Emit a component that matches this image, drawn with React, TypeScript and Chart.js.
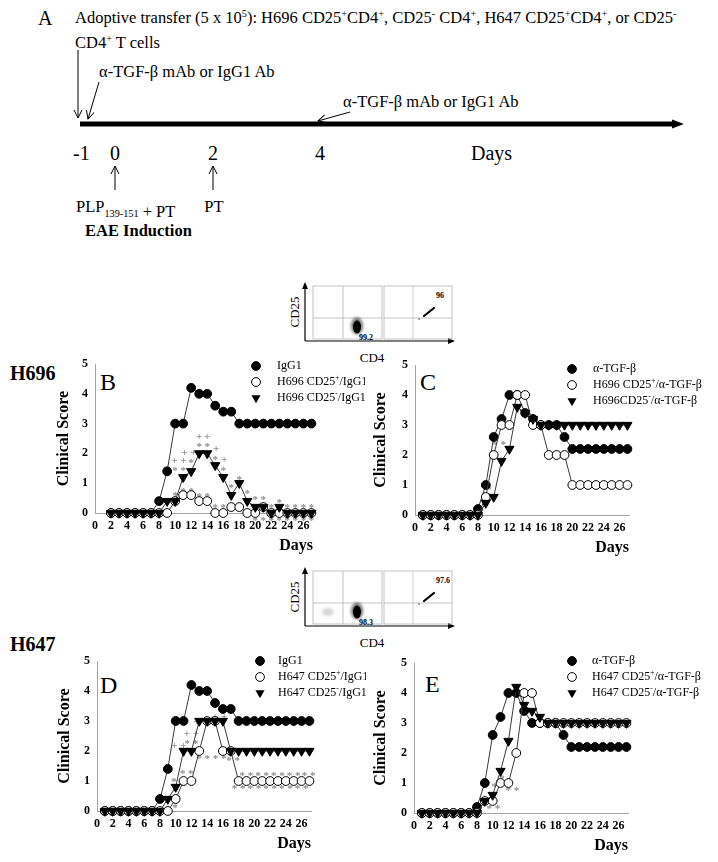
import React, { useEffect, useRef } from 'react';
import { Chart, registerables } from 'chart.js';

Chart.register(...registerables);

const SERIF = "'Liberation Serif', 'Times New Roman', Times, serif";
Chart.defaults.font.family = SERIF;
Chart.defaults.color = '#000';

// ---------- data ----------
const dayTicks = [0, 2, 4, 6, 8, 10, 12, 14, 16, 18, 20, 22, 24, 26];
const scoreTicks = [0, 1, 2, 3, 4, 5];

const daysB = [2, 3, 4, 5, 6, 7, 8, 9, 10, 11, 12, 13, 14, 15, 16, 17, 18, 19, 20, 21, 22, 23, 24, 25, 26, 27];
const daysAll = [1, 2, 3, 4, 5, 6, 7, 8, 9, 10, 11, 12, 13, 14, 15, 16, 17, 18, 19, 20, 21, 22, 23, 24, 25, 26, 27];

// Panel B (H696, IgG1 treated)
const bIgG1 = [0, 0, 0, 0, 0, 0, 0.4, 1.4, 3, 3, 4.2, 4, 4, 3.6, 3.4, 3.4, 3, 3, 3, 3, 3, 3, 3, 3, 3, 3];
const bCD25pos = [0, 0, 0, 0, 0, 0, 0, 0, 0.4, 0.6, 0.6, 0.4, 0.4, 0, 0, 0.2, 0.2, 0, 0, 0.2, 0, 0, 0, 0, 0, 0];
const bCD25neg = [0, 0, 0, 0, 0, 0, 0, 0.4, 0.4, 1.2, 1.4, 2, 2, 1.6, 1.2, 0.6, 1.0, 0.4, 0.2, 0.2, 0, 0.2, 0, 0, 0, 0];

// Panel C (H696, anti-TGF-beta treated)
const cAnti = [0, 0, 0, 0, 0, 0, 0, 0.2, 1.0, 2.6, 3.2, 4.0, 4.0, 3.4, 3.2, 3.0, 3.0, 3.0, 2.6, 2.2, 2.2, 2.2, 2.2, 2.2, 2.2, 2.2, 2.2];
const cCD25pos = [0, 0, 0, 0, 0, 0, 0, 0, 0.6, 2.0, 3.0, 3.0, 4.0, 4.0, 3.0, 3.0, 2.0, 2.0, 2.0, 1, 1, 1, 1, 1, 1, 1, 1];
const cCD25neg = [0, 0, 0, 0, 0, 0, 0, 0, 0.4, 0.6, 1.8, 2.2, 3.6, 3.4, 3.2, 3, 3, 3, 3, 3, 3, 3, 3, 3, 3, 3, 3];

// Panel D (H647, IgG1 treated)
const dIgG1 = [0, 0, 0, 0, 0, 0, 0, 0.4, 1.4, 3, 3, 4.2, 4, 4, 3.6, 3.4, 3.4, 3, 3, 3, 3, 3, 3, 3, 3, 3, 3];
const dCD25pos = [0, 0, 0, 0, 0, 0, 0, 0, 0, 0.4, 1, 1, 2, 3, 3, 2, 2, 1, 1, 1, 1, 1, 1, 1, 1, 1, 1];
const dCD25neg = [0, 0, 0, 0, 0, 0, 0, 0, 0.4, 0.8, 2, 2, 3, 3, 3, 3, 2, 2, 2, 2, 2, 2, 2, 2, 2, 2, 2];

// Panel E (H647, anti-TGF-beta treated)
const eAnti = [0, 0, 0, 0, 0, 0, 0, 0.2, 1.0, 2.6, 3.2, 4.0, 4.0, 3.4, 3.0, 3.0, 3.0, 3.0, 2.6, 2.2, 2.2, 2.2, 2.2, 2.2, 2.2, 2.2, 2.2];
const eCD25pos = [0, 0, 0, 0, 0, 0, 0, 0, 0.4, 0.4, 1.0, 1.0, 2.0, 4.0, 4.0, 3.0, 3, 3, 3, 3, 3, 3, 3, 3, 3, 3, 3];
const eCD25neg = [0, 0, 0, 0, 0, 0, 0, 0, 0.4, 0.6, 1.4, 2.4, 4.2, 3.6, 3.4, 3.2, 3, 3, 3, 3, 3, 3, 3, 3, 3, 3, 3];

// significance marks: [day, score, text]
type Mark = [number, number, string];
const bMarks: Mark[] = [
  [10.5, 1.75, '++'], [10.5, 1.48, '**'], [11.7, 2.0, '++'], [12, 1.75, '*'],
  [13, 2.55, '+'], [14, 2.55, '+'], [13, 2.3, '*'], [14, 2.3, '*'],
  [15.1, 2.13, '+'], [15, 1.87, '*'], [16.1, 1.77, '+'], [16, 1.5, '*'],
  [17, 0.92, '*'], [18, 1.2, '*'], [19, 0.73, '*'], [20, 0.5, '*'], [21, 0.5, '*'], [23, 0.42, '*'],
  [10, 0.65, '*'], [11, 0.8, '*'], [12, 0.8, '*'], [13, 0.6, '*'], [14, 0.6, '*'],
  [15, 0.25, '*'], [16, 0.25, '*'], [22, 0.25, '*'], [24, 0.25, '*'], [25, 0.25, '*'], [26, 0.25, '*'], [27, 0.25, '*'],
  [20, -0.2, '*'], [21, -0.2, '*'], [22, -0.2, '*'], [23, -0.2, '*'], [24, -0.2, '*'], [25, -0.2, '*'], [26, -0.2, '*'], [27, -0.2, '*'],
];
const cMarks: Mark[] = [[10.7, 2.4, '**'], [9.4, 0.9, '*']];
const dMarks: Mark[] = [
  [10.4, 2.17, '++'], [12, 2.55, '++'], [12, 2.3, '**'], [13.2, 2.97, '++'], [13.5, 1.8, '**'],
  [15.6, 3.13, '++'], [15.6, 1.8, '**'], [17.3, 1.74, '**'],
  [10.9, 1.3, '*'], [11.9, 1.3, '*'], [9.8, 1.04, '*'], [9.9, 0.17, '*'],
  [19, 1.25, '**'], [21, 1.25, '**'], [23, 1.25, '**'], [25, 1.25, '**'], [26.9, 1.25, '**'],
  [18, 0.8, '**'], [20, 0.8, '**'], [22, 0.8, '**'], [24, 0.8, '**'], [26, 0.8, '**'],
];
const eMarks: Mark[] = [[10.1, 0.2, '**'], [10.2, 0.95, '*'], [11.2, 1.2, '*'], [12.5, 0.8, '**']];

// ---------- chart helpers ----------
const AXIS = '#a3a3a3';
const LINE = '#3a3a3a';
const CIRC_R = 4.4;
const TRI_R = 5.3;
const X_MAX = 27.2;
const Y_AXIS_W = 50;
const X_AXIS_H = 45;

type Kind = 'filled' | 'open' | 'tri';
type Series = { label: string; values: number[]; kind: Kind };

function drawMarker(ctx: CanvasRenderingContext2D, kind: Kind, x: number, y: number) {
  ctx.save();
  ctx.lineWidth = 1;
  ctx.strokeStyle = '#000';
  ctx.beginPath();
  if (kind === 'tri') {
    ctx.moveTo(x, y + TRI_R);
    ctx.lineTo(x - TRI_R * 0.866, y - TRI_R / 2);
    ctx.lineTo(x + TRI_R * 0.866, y - TRI_R / 2);
    ctx.closePath();
    ctx.fillStyle = '#000';
    ctx.fill();
  } else {
    ctx.arc(x, y, CIRC_R, 0, Math.PI * 2);
    ctx.fillStyle = kind === 'open' ? '#fff' : '#000';
    ctx.fill();
    ctx.stroke();
  }
  ctx.restore();
}

function drawRich(ctx: CanvasRenderingContext2D, text: string, x: number, y: number, size: number) {
  let cx = x;
  const parts = text.split(/(\^.)/);
  for (const p of parts) {
    if (!p) continue;
    if (p[0] === '^') {
      ctx.font = `${size * 0.62}px ${SERIF}`;
      ctx.fillText(p[1], cx, y - size * 0.36);
      cx += ctx.measureText(p[1]).width;
    } else {
      ctx.font = `${size}px ${SERIF}`;
      ctx.fillText(p, cx, y);
      cx += ctx.measureText(p).width;
    }
  }
}

const legendPlugin = {
  id: 'sideLegend',
  afterDraw(chart: any, _args: any, opts: any) {
    const { ctx, chartArea } = chart;
    const x0 = chartArea.left + opts.dx;
    const y0 = chartArea.top + opts.dy;
    const items: Series[] = opts.items;
    ctx.save();
    ctx.textBaseline = 'middle';
    ctx.textAlign = 'left';
    ctx.fillStyle = '#000';
    items.forEach((s, i) => {
      const y = y0 + i * 16;
      drawMarker(ctx, s.kind, x0, y);
      ctx.fillStyle = '#000';
      drawRich(ctx, s.label, x0 + opts.textGap, y, 12);
    });
    ctx.restore();
  },
};

const marksPlugin = {
  id: 'sigMarks',
  beforeDatasetsDraw(chart: any, _args: any, opts: any) {
    const { ctx } = chart;
    const xs = chart.scales.x;
    const ys = chart.scales.y;
    ctx.save();
    ctx.fillStyle = '#8d8d8d';
    ctx.font = `bold 11px ${SERIF}`;
    ctx.textAlign = 'center';
    ctx.textBaseline = 'middle';
    (opts.marks as Mark[]).forEach(([d, v, t]) => {
      const off = t.includes('*') ? 2.5 : 0;
      ctx.fillText(t.split('').join(' '), xs.getPixelForValue(d), ys.getPixelForValue(v) + off);
    });
    ctx.restore();
  },
};

type PanelProps = {
  chartLeft: number;
  chartTop: number;
  chartW: number;
  chartH: number;
  padTop: number;
  padRight: number;
  titlePad: number;
  days: number[];
  series: Series[];
  marks: Mark[];
  legendDx: number;
  legendDy: number;
  textGap: number;
};

function ScorePanel(p: PanelProps) {
  const ref = useRef<HTMLCanvasElement>(null);
  const width = Y_AXIS_W + p.chartW + p.padRight;
  const height = p.padTop + p.chartH + X_AXIS_H;
  useEffect(() => {
    const canvas = ref.current;
    if (!canvas) return;
    const datasets = p.series.map((s) => {
      const tri = s.kind === 'tri';
      return {
        label: s.label.replace(/\^/g, ''),
        data: p.days.map((d, i) => ({ x: d, y: s.values[i] })),
        borderColor: LINE,
        borderWidth: 1,
        pointStyle: tri ? 'triangle' : 'circle',
        pointRotation: tri ? 180 : 0,
        pointRadius: tri ? TRI_R : CIRC_R,
        pointHoverRadius: tri ? TRI_R : CIRC_R,
        pointBackgroundColor: s.kind === 'open' ? '#fff' : '#000',
        pointBorderColor: '#000',
        pointBorderWidth: 1,
        order: tri ? 0 : s.kind === 'open' ? 1 : 2,
        clip: false,
        tension: 0,
        fill: false,
      };
    });
    const tickFont = { family: SERIF, size: 12, weight: 'bold' as const };
    const chart = new Chart(canvas, {
      type: 'line',
      data: { datasets: datasets as any },
      plugins: [legendPlugin as any, marksPlugin as any],
      options: {
        responsive: false,
        animation: false,
        devicePixelRatio: 1,
        events: [],
        layout: { padding: { top: p.padTop, right: p.padRight, left: 0, bottom: 0 } },
        plugins: {
          legend: { display: false },
          tooltip: { enabled: false },
          sideLegend: { dx: p.legendDx, dy: p.legendDy, items: p.series, textGap: p.textGap },
          sigMarks: { marks: p.marks },
        } as any,
        scales: {
          x: {
            type: 'linear',
            min: 0,
            max: X_MAX,
            afterBuildTicks: (s: any) => {
              s.ticks = dayTicks.map((v) => ({ value: v }));
            },
            afterFit: (s: any) => {
              s.height = X_AXIS_H;
            },
            grid: { display: false, drawTicks: false },
            border: { display: true, color: AXIS, width: 1 },
            ticks: { font: tickFont, color: '#000', padding: 6, maxRotation: 0, autoSkip: false },
            title: {
              display: true,
              text: 'Days',
              align: 'end',
              color: '#000',
              font: { family: SERIF, size: 16, weight: 'bold' },
              padding: { top: 0, bottom: 3 },
            },
          },
          y: {
            type: 'linear',
            min: 0,
            max: 5,
            afterBuildTicks: (s: any) => {
              s.ticks = scoreTicks.map((v) => ({ value: v }));
            },
            afterFit: (s: any) => {
              s.width = Y_AXIS_W;
            },
            grid: { display: false, drawTicks: false },
            border: { display: true, color: AXIS, width: 1 },
            ticks: { font: tickFont, color: '#000', padding: 7 },
            title: {
              display: true,
              text: 'Clinical Score',
              color: '#000',
              font: { family: SERIF, size: 16, weight: 'bold' },
              padding: { top: p.titlePad - 1.2, bottom: 0 },
            },
          },
        } as any,
      },
    });
    return () => chart.destroy();
  }, []);
  return (
    <canvas
      ref={ref}
      width={width}
      height={height}
      style={{
        position: 'absolute',
        left: p.chartLeft - Y_AXIS_W,
        top: p.chartTop - p.padTop,
        width,
        height,
        display: 'block',
      }}
    />
  );
}

// ---------- SVG text helpers ----------
function rich(text: string, size: number) {
  const out: any[] = [];
  let key = 0;
  let raised = false;
  const parts = text.split(/(\^.|_\{[^}]*\})/);
  for (const part of parts) {
    if (!part) continue;
    if (part[0] === '^') {
      out.push(
        <tspan key={key++} dy={raised ? 0 : -size * 0.38} fontSize={size * 0.62}>
          {part[1]}
        </tspan>
      );
      raised = true;
    } else if (part.startsWith('_{')) {
      out.push(
        <tspan key={key++} dy={size * 0.3} fontSize={size * 0.62}>
          {part.slice(2, -1)}
        </tspan>
      );
      out.push(
        <tspan key={key++} dy={-size * 0.3}>
          {''}
        </tspan>
      );
    } else {
      out.push(
        <tspan key={key++} dy={raised ? size * 0.38 : 0}>
          {part}
        </tspan>
      );
      raised = false;
    }
  }
  return out;
}

function Timeline() {
  const fs = 16.5;
  return (
    <g fontFamily={SERIF} fill="#000" style={{ whiteSpace: 'pre' }}>
      <text x={38} y={25} fontSize={20}>A</text>
      <text x={75} y={23} fontSize={fs}>
        {rich('Adoptive transfer (5 x 10^5): H696 CD25^+CD4^+, CD25^- CD4^+, H647 CD25^+CD4^+, or CD25^-', fs)}
      </text>
      <text x={75} y={48} fontSize={fs}>
        {rich('CD4^+ T cells', fs)}
      </text>
      <text x={99} y={77} fontSize={fs}>α-TGF-β mAb or IgG1 Ab</text>
      <text x={343} y={107} fontSize={fs}>α-TGF-β mAb or IgG1 Ab</text>

      <line x1={78} y1={50} x2={78} y2={118} stroke="#000" strokeWidth={1} markerEnd="url(#openArrow)" />
      <line x1={99} y1={82} x2={88} y2={119} stroke="#000" strokeWidth={1} markerEnd="url(#openArrow)" />
      <line x1={350} y1={112} x2={318} y2={121} stroke="#000" strokeWidth={1} markerEnd="url(#openArrow)" />

      <line x1={80} y1={124} x2={674} y2={124} stroke="#000" strokeWidth={5} />
      <polygon points="672,119.5 684,124 672,128.5" fill="#000" />

      <text x={73} y={160} fontSize={20}>-1</text>
      <text x={115} y={160} fontSize={20} textAnchor="middle">0</text>
      <text x={213} y={160} fontSize={20} textAnchor="middle">2</text>
      <text x={320} y={160} fontSize={20} textAnchor="middle">4</text>
      <text x={471} y={160} fontSize={20}>Days</text>

      <line x1={115} y1={190} x2={115} y2={166} stroke="#000" strokeWidth={1} markerEnd="url(#openArrow)" />
      <line x1={213} y1={190} x2={213} y2={166} stroke="#000" strokeWidth={1} markerEnd="url(#openArrow)" />

      <text x={76} y={212} fontSize={fs}>
        {rich('PLP_{139-151} + PT', fs)}
      </text>
      <text x={214} y={212} fontSize={fs} textAnchor="middle">PT</text>
      <text x={85} y={236} fontSize={fs} fontWeight="bold">EAE Induction</text>
    </g>
  );
}

function FlowInset({ dy, posLeft, posRight, dim }: { dy: number; posLeft: string; posRight: string; dim: boolean }) {
  const box = '#b5b5b5';
  return (
    <g transform={`translate(0, ${dy})`} fontFamily={SERIF}>
      <line x1={305} y1={341} x2={305} y2={288} stroke="#000" strokeWidth={1.2} />
      <polygon points="302,289 305,282 308,289" fill="#000" />
      <line x1={305} y1={341} x2={449} y2={341} stroke="#000" strokeWidth={1.2} />
      <polygon points="448,338 455,341 448,344" fill="#000" />

      <rect x={313} y={286} width={69} height={53} fill="none" stroke={box} strokeWidth={0.8} />
      <line x1={343} y1={286} x2={343} y2={339} stroke={box} strokeWidth={0.8} />
      <line x1={313} y1={318} x2={382} y2={318} stroke={box} strokeWidth={0.8} />
      <rect x={384} y={286} width={68} height={53} fill="none" stroke={box} strokeWidth={0.8} />
      <line x1={413} y1={286} x2={413} y2={339} stroke={box} strokeWidth={0.6} />
      <line x1={384} y1={318} x2={452} y2={318} stroke={box} strokeWidth={0.8} />

      {dim && <ellipse cx={328} cy={327} rx={6} ry={4} fill="#bbb" opacity={0.6} filter="url(#soft)" />}
      <ellipse cx={357} cy={326} rx={6} ry={8.5} fill="#000" opacity={0.55} filter="url(#soft)" />
      <ellipse cx={357} cy={327} rx={4} ry={6.5} fill="#000" />
      <line x1={424} y1={316} x2={434} y2={308} stroke="#000" strokeWidth={2.2} strokeLinecap="round" />
      <circle cx={419} cy={319} r={0.8} fill="#444" />

      <text x={296} y={312} fontSize={13} textAnchor="middle" transform="rotate(-90 296 312)" dominantBaseline="middle">CD25</text>
      <text x={372} y={362} fontSize={13} textAnchor="middle">CD4</text>
      <text x={359} y={340} fontSize={8} fontWeight="bold" fill="#000">{posLeft}</text>
      <text x={436} y={298} fontSize={8} fontWeight="bold" fill="#000">{posRight}</text>
    </g>
  );
}

export default function App() {
  const W = 718;
  const H = 862;
  return (
    <div style={{ position: 'absolute', left: 0, top: 0, width: W, height: H, background: '#fff', overflow: 'hidden' }}>
      <svg width={W} height={H} style={{ position: 'absolute', left: 0, top: 0 }}>
        <defs>
          <marker id="openArrow" markerWidth={10} markerHeight={10} refX={9} refY={5} orient="auto" markerUnits="userSpaceOnUse">
            <path d="M1,1 L9,5 L1,9" fill="none" stroke="#000" strokeWidth={1} />
          </marker>
          <filter id="soft" x="-50%" y="-50%" width="200%" height="200%">
            <feGaussianBlur stdDeviation={1.6} />
          </filter>
        </defs>
        <Timeline />
        <FlowInset dy={0} posLeft="99.2" posRight="96" dim={false} />
        <FlowInset dy={285} posLeft="98.3" posRight="97.6" dim={true} />
        <g fontFamily={SERIF} fill="#000">
          <text x={10} y={380} fontSize={20} fontWeight="bold">H696</text>
          <text x={10} y={651} fontSize={20} fontWeight="bold">H647</text>
          <text x={100} y={390} fontSize={24}>B</text>
          <text x={420} y={390} fontSize={24}>C</text>
          <text x={100} y={693} fontSize={24}>D</text>
          <text x={425} y={692} fontSize={24}>E</text>
        </g>
      </svg>
      <ScorePanel
        chartLeft={95} chartTop={364} chartW={218} chartH={149} padTop={24} padRight={52} titlePad={10.6}
        days={daysB}
        series={[
          { label: 'IgG1', values: bIgG1, kind: 'filled' },
          { label: 'H696 CD25^+/IgG1', values: bCD25pos, kind: 'open' },
          { label: 'H696 CD25^-/IgG1', values: bCD25neg, kind: 'tri' },
        ]}
        marks={bMarks} legendDx={161} legendDy={2} textGap={21}
      />
      <ScorePanel
        chartLeft={415} chartTop={365} chartW={214} chartH={150} padTop={24} padRight={86} titlePad={7.6}
        days={daysAll}
        series={[
          { label: 'α-TGF-β', values: cAnti, kind: 'filled' },
          { label: 'H696 CD25^+/α-TGF-β', values: cCD25pos, kind: 'open' },
          { label: 'H696CD25^-/α-TGF-β', values: cCD25neg, kind: 'tri' },
        ]}
        marks={cMarks} legendDx={157} legendDy={4} textGap={21}
      />
      <ScorePanel
        chartLeft={97} chartTop={661} chartW={214} chartH={150} padTop={24} padRight={55} titlePad={9.6}
        days={daysAll}
        series={[
          { label: 'IgG1', values: dIgG1, kind: 'filled' },
          { label: 'H647 CD25^+/IgG1', values: dCD25pos, kind: 'open' },
          { label: 'H647 CD25^-/IgG1', values: dCD25neg, kind: 'tri' },
        ]}
        marks={dMarks} legendDx={163} legendDy={0} textGap={18}
      />
      <ScorePanel
        chartLeft={414} chartTop={663} chartW={214} chartH={150} padTop={24} padRight={87} titlePad={8.6}
        days={daysAll}
        series={[
          { label: 'α-TGF-β', values: eAnti, kind: 'filled' },
          { label: 'H647 CD25^+/α-TGF-β', values: eCD25pos, kind: 'open' },
          { label: 'H647 CD25^-/α-TGF-β', values: eCD25neg, kind: 'tri' },
        ]}
        marks={eMarks} legendDx={158} legendDy={-2} textGap={20}
      />
    </div>
  );
}
